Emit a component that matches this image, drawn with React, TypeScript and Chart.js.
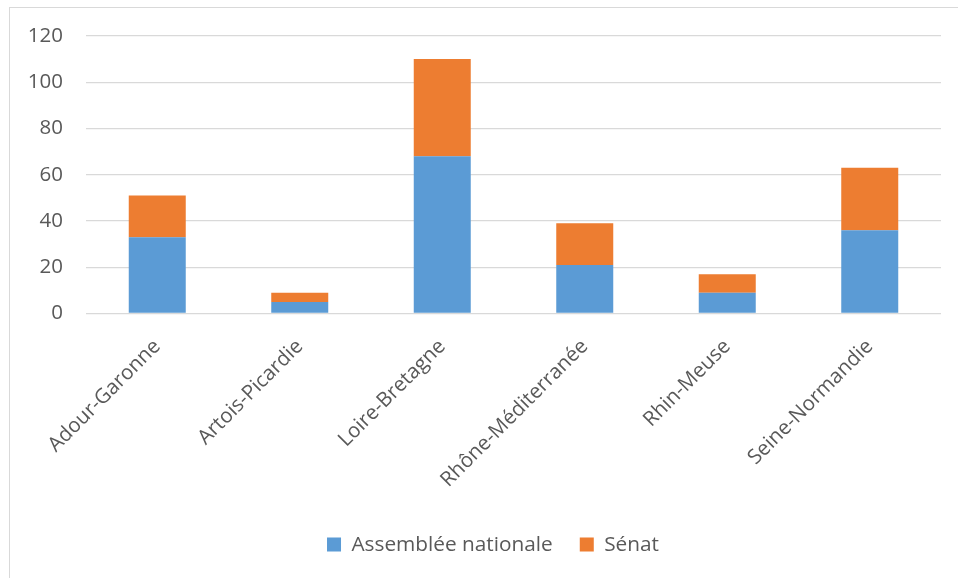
import React, { useEffect, useRef } from "react";
import { Chart, registerables } from "chart.js";

Chart.register(...registerables);

const categories = [
  "Adour-Garonne",
  "Artois-Picardie",
  "Loire-Bretagne",
  "Rhône-Méditerranée",
  "Rhin-Meuse",
  "Seine-Normandie",
];
const assembleeValues = [33, 5, 68, 21, 9, 36];
const senatValues = [18, 4, 42, 18, 8, 27];
const seriesNames = ["Assemblée nationale", "Sénat"];

const FONT = "'Open Sans', 'DejaVu Sans', sans-serif";
const TEXT = "#595959";

const unclipYLabels = {
  id: "unclipYLabels",
  afterLayout(chart: any) {
    if (chart.scales.y) chart.scales.y.left = 0;
  },
};

export default function App() {
  const ref = useRef<HTMLCanvasElement | null>(null);

  useEffect(() => {
    if (!ref.current) return;
    const chart = new Chart(ref.current, {
      type: "bar",
      data: {
        labels: categories,
        datasets: [
          {
            label: seriesNames[0],
            data: assembleeValues,
            backgroundColor: "#5b9bd5",
            barPercentage: 0.4,
            categoryPercentage: 1,
          },
          {
            label: seriesNames[1],
            data: senatValues,
            backgroundColor: "#ed7d31",
            barPercentage: 0.4,
            categoryPercentage: 1,
          },
        ],
      },
      plugins: [unclipYLabels],
      options: {
        responsive: false,
        animation: false,
        maintainAspectRatio: false,
        layout: { padding: { left: 35, right: 17, top: 28, bottom: 14 } },
        plugins: {
          tooltip: { enabled: false },
          legend: {
            position: "bottom",
            labels: {
              color: TEXT,
              font: { family: FONT, size: 20.8 },
              boxWidth: 14,
              boxHeight: 14,
              padding: 27,
            },
          },
        },
        scales: {
          x: {
            stacked: true,
            grid: { display: false, drawTicks: false },
            border: { display: false },
            afterFit: (scale: any) => {
              scale.paddingLeft = 0;
              scale.paddingRight = 0;
              scale.height -= 6;
            },
            ticks: {
              color: TEXT,
              font: { family: FONT, size: 20.5 },
              maxRotation: 45,
              minRotation: 45,
              padding: 21,
            },
          },
          y: {
            stacked: true,
            min: 0,
            max: 120,
            grid: { color: "#d9d9d9", lineWidth: 1.3, drawTicks: false },
            border: { display: false },
            afterFit: (scale: any) => {
              scale.width = 41;
              scale.paddingTop = 0;
              scale.paddingBottom = 0;
            },
            ticks: {
              stepSize: 20,
              color: TEXT,
              font: { family: FONT, size: 20.5 },
              padding: 23,
            },
          },
        },
      },
    });
    return () => chart.destroy();
  }, []);

  return (
    <div
      style={{
        position: "absolute",
        left: 9,
        top: 7,
        width: 960,
        height: 580,
        borderLeft: "1px solid #d9d9d9",
        borderTop: "1px solid #d9d9d9",
        background: "#fff",
      }}
    >
      <canvas ref={ref} width={948} height={571} style={{ display: "block" }} />
    </div>
  );
}
